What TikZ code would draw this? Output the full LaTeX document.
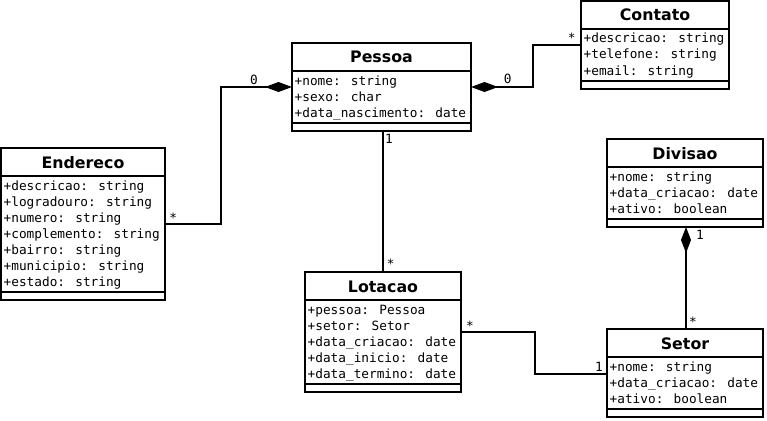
\documentclass[tikz,border=0pt]{standalone}
\usepackage{fontspec}
\setmainfont{DejaVu Sans}
\newfontfamily\umlmono{DejaVu Sans Mono}
\usetikzlibrary{arrows.meta}
\newcommand\attrfont{\umlmono\fontsize{12.75}{16}\selectfont}
\newcommand\titlefont{\fontsize{15.8}{18}\selectfont\bfseries}
\tikzset{
  clsbox/.style={draw, line width=2pt, inner sep=0pt, outer sep=0pt, anchor=north west},
  umlline/.style={line width=2pt},
  clstitle/.style={anchor=base, inner sep=0pt, font=\titlefont},
  clsattr/.style={anchor=base west, inner sep=0pt, font=\attrfont},
  conn/.style={line width=2pt},
  mult/.style={anchor=base, inner sep=0pt, font=\attrfont},
  compo/.style={Diamond[fill=black, length=27pt, width=10pt]}
}
% #1 name, #2 x, #3 y, #4 width, #5 title, #6 rows, #7 number of rows
\newcommand{\umlclass}[7]{%
  \node[clsbox, minimum width=#4, minimum height={16*#7+40}] (#1) at (#2,#3) {};
  \draw[umlline] ([yshift=-28pt]#1.north west) -- ([yshift=-28pt]#1.north east);
  \draw[umlline] ([yshift=8pt]#1.south west) -- ([yshift=8pt]#1.south east);
  \node[clstitle] (#1-title) at ([yshift=-20pt]#1.north) {#5};
  \foreach \t [count=\i] in {#6}
    \node[clsattr] (#1-\i) at ([xshift=2.5pt, yshift={-42-16*(\i-1)}]#1.north west) {\t};
}
\begin{document}
\begin{tikzpicture}[x=1pt, y=-1pt]
\useasboundingbox (0,0) rectangle (767,420);

\umlclass{pessoa}{292}{43}{179}{Pessoa}{+nome: string, +sexo: char, +data\_nascimento: date}{3}
\umlclass{endereco}{1}{148}{164}{Endereco}{+descricao: string, +logradouro: string, +numero: string, +complemento: string, +bairro: string, +municipio: string, +estado: string}{7}
\umlclass{contato}{581}{1}{148}{Contato}{+descricao: string, +telefone: string, +email: string}{3}
\umlclass{divisao}{607}{139}{156}{Divisao}{+nome: string, +data\_criacao: date, +ativo: boolean}{3}
\umlclass{lotacao}{305}{272}{156}{Lotacao}{+pessoa: Pessoa, +setor: Setor, +data\_criacao: date, +data\_inicio: date, +data\_termino: date}{5}
\umlclass{setor}{607}{329}{156}{Setor}{+nome: string, +data\_criacao: date, +ativo: boolean}{3}

% connectors
\draw[conn, -{Diamond[fill=black, length=27pt, width=10pt]}] (endereco.east |- 0,224) -| (221,87) -- (pessoa.west |- 0,87);
\draw[conn, {Diamond[fill=black, length=27pt, width=10pt]}-] (pessoa.east |- 0,87) -| (533,45) -- (contato.west |- 0,45);
\draw[conn] (pessoa.south -| 382.5,0) -- (lotacao.north -| 382.5,0);
\draw[conn, {Diamond[fill=black, length=26pt, width=10pt]}-] (divisao.south -| 686,0) -- (setor.north -| 686,0);
\draw[conn] (lotacao.east |- 0,332) -| (535,374) -- (setor.west |- 0,374);

% multiplicities
\node[mult] (m1) at (254,84.7) {0};
\node[mult] (m2) at (173.3,222.4) {*};
\node[mult] (m3) at (507.7,83.7) {0};
\node[mult] (m4) at (571.7,42.4) {*};
\node[mult] (m5) at (389,143.7) {1};
\node[mult] (m6) at (390.7,268.4) {*};
\node[mult] (m7) at (700,239.7) {1};
\node[mult] (m8) at (693,326.4) {*};
\node[mult] (m9) at (470,330) {*};
\node[mult] (m10) at (599,371.4) {1};
\end{tikzpicture}
\end{document}
